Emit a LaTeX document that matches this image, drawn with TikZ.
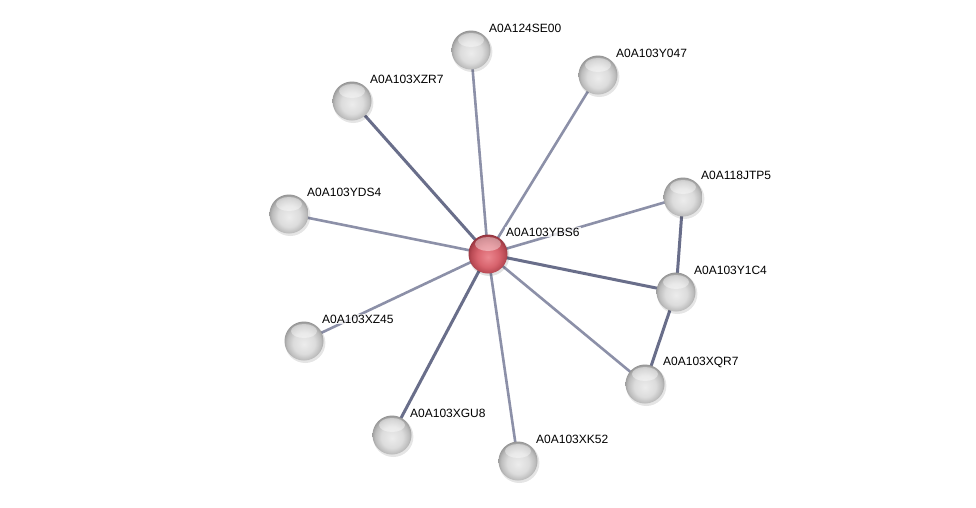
\documentclass[tikz,border=0pt]{standalone}
\usepackage{fontspec}
\setmainfont{Liberation Sans}
\usetikzlibrary{calc}
\definecolor{edgeA}{RGB}{140,144,168}
\definecolor{edgeB}{RGB}{105,110,138}
\definecolor{gb0}{RGB}{236,236,236}
\definecolor{gb1}{RGB}{220,220,220}
\definecolor{gb2}{RGB}{188,188,188}
\definecolor{gb3}{RGB}{140,140,140}
\definecolor{rb0}{RGB}{235,135,143}
\definecolor{rb1}{RGB}{216,100,110}
\definecolor{rb2}{RGB}{185,74,84}
\definecolor{rb3}{RGB}{138,46,56}
\pgfdeclareradialshading{greyball}{\pgfpoint{0bp}{-4bp}}{%
  color(0bp)=(gb0);
  color(14bp)=(gb1);
  color(22bp)=(gb2);
  color(28bp)=(gb3);
  color(50bp)=(gb3)}
\pgfdeclareradialshading{redball}{\pgfpoint{0bp}{-4bp}}{%
  color(0bp)=(rb0);
  color(14bp)=(rb1);
  color(22bp)=(rb2);
  color(28bp)=(rb3);
  color(50bp)=(rb3)}
\tikzset{
  prot/.style={circle, minimum size=39pt, inner sep=0pt, shading=greyball, draw=none},
  center/.style={circle, minimum size=39pt, inner sep=0pt, shading=redball, draw=none},
  shine/.style={fill=white, opacity=0.4},
  lab/.style={anchor=west, font=\fontsize{12pt}{13pt}\selectfont, fill=white, fill opacity=0.8, text opacity=1, inner sep=1pt},
  edg/.style={draw=edgeA, line width=2.6pt},
  edgd/.style={draw=edgeB, line width=3pt},
}
\begin{document}
\begin{tikzpicture}[x=1pt,y=-1pt]
\useasboundingbox (0,0) rectangle (976,507);
\fill[white] (0,0) rectangle (976,507);
\coordinate (c) at (488,254);
\coordinate (n1) at (471,50);
\coordinate (n2) at (598,75);
\coordinate (n3) at (352,101);
\coordinate (n4) at (289,214);
\coordinate (n5) at (683,197);
\coordinate (n6) at (676,292);
\coordinate (n7) at (304,341);
\coordinate (n8) at (645,384);
\coordinate (n9) at (392,435);
\coordinate (n10) at (518,461);
% edges
\draw[edg] (c) -- (n1);
\draw[edg] (c) -- (n2);
\draw[edgd] (c) -- (n3);
\draw[edg] (c) -- (n4);
\draw[edg] (c) -- (n5);
\draw[edgd] (c) -- (n6);
\draw[edg] (c) -- (n7);
\draw[edg] (c) -- (n8);
\draw[edgd] (c) -- (n9);
\draw[edg] (c) -- (n10);
\draw[edgd] (n5) -- (n6);
\draw[edgd] (n6) -- (n8);
% nodes
\foreach \n in {n1,n2,n3,n4,n5,n6,n7,n8,n9,n10} {
  \fill[black, opacity=0.10] ($(\n)+(1.2,1.8)$) circle (20.2);
}
\node[prot] (N1) at (n1) {};
\node[prot] (N2) at (n2) {};
\node[prot] (N3) at (n3) {};
\node[prot] (N4) at (n4) {};
\node[prot] (N5) at (n5) {};
\node[prot] (N6) at (n6) {};
\node[prot] (N7) at (n7) {};
\node[prot] (N8) at (n8) {};
\node[prot] (N9) at (n9) {};
\node[prot] (N10) at (n10) {};
\fill[black, opacity=0.12] (489.2,255.8) circle (20.2);
\node[center] (C) at (c) {};
\foreach \n in {n1,n2,n3,n4,n5,n6,n7,n8,n9,n10,c} {
  \fill[shine] ($(\n)+(0,-10)$) ellipse (13 and 7);
}
% labels
\node[lab] at ($(c)+(17,-22)$) {A0A103YBS6};
\node[lab] at ($(n1)+(17,-22)$) {A0A124SE00};
\node[lab] at ($(n2)+(17,-22)$) {A0A103Y047};
\node[lab] at ($(n3)+(17,-22)$) {A0A103XZR7};
\node[lab] at ($(n4)+(17,-22)$) {A0A103YDS4};
\node[lab] at ($(n5)+(17,-22)$) {A0A118JTP5};
\node[lab] at ($(n6)+(17,-22)$) {A0A103Y1C4};
\node[lab] at ($(n7)+(17,-22)$) {A0A103XZ45};
\node[lab] at ($(n8)+(17,-22)$) {A0A103XQR7};
\node[lab] at ($(n9)+(17,-22)$) {A0A103XGU8};
\node[lab] at ($(n10)+(17,-22)$) {A0A103XK52};
\end{tikzpicture}
\end{document}
